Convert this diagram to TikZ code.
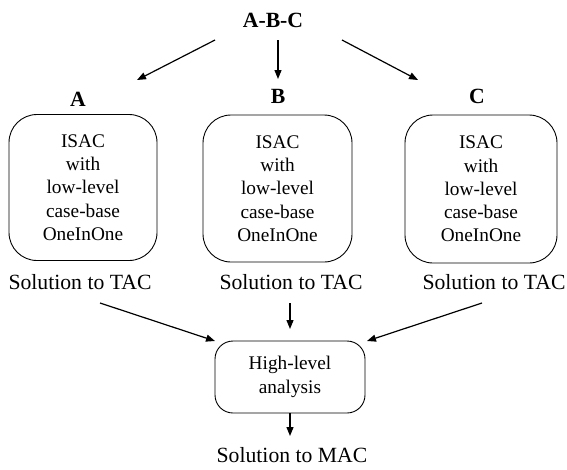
\documentclass[tikz,border=0pt]{standalone}
\usepackage{fontspec}
\setmainfont{Liberation Serif}
\usetikzlibrary{arrows.meta}
\tikzset{
  bigtxt/.style={font=\fontsize{21.7}{26}\selectfont, inner sep=0pt},
  boldtxt/.style={font=\fontsize{21.7}{26}\selectfont\bfseries, inner sep=0pt},
  isacbox/.style={draw, line width=0.9pt, rounded corners=28pt, minimum width=148pt, minimum height=146pt,
     align=center, inner sep=0pt, font=\fontsize{19.3}{23.3}\selectfont},
  hlbox/.style={draw, line width=0.9pt, rounded corners=18pt, minimum width=150pt, minimum height=72pt,
     align=center, inner sep=0pt, font=\fontsize{19.3}{23.3}\selectfont},
  arr/.style={line width=1.2pt, -{Triangle[length=9pt,width=7pt]}}
}
\begin{document}
\begin{tikzpicture}[x=1pt,y=-1pt]
\useasboundingbox (0,0) rectangle (567,469);
% top label
\node[boldtxt] (abc) at (273,20) {A-B-C};
\node[boldtxt] (la) at (78,99) {A};
\node[boldtxt] (lb) at (278,96) {B};
\node[boldtxt] (lc) at (477,96) {C};
% boxes
\node[isacbox] (ba) at (83,187.5) {ISAC\\with\\low-level\\case-base\\OneInOne};
\node[isacbox, minimum width=149pt, minimum height=147pt] (bb) at (277.5,188.5) {ISAC\\with\\low-level\\case-base\\OneInOne};
\node[isacbox, minimum width=152pt, minimum height=148pt] (bc) at (481,189) {ISAC\\with\\low-level\\case-base\\OneInOne};
% solutions
\node[bigtxt] (sa) at (80,282) {Solution to TAC};
\node[bigtxt] (sb) at (291,282) {Solution to TAC};
\node[bigtxt] (sc) at (494,282) {Solution to TAC};
% high-level box
\node[hlbox] (hl) at (290,377) {High-level\\analysis};
\node[bigtxt] (smac) at (292,455) {Solution to MAC};
% arrow end coordinates
\coordinate (t1s) at (215,40);
\coordinate (t1e) at (137,80);
\coordinate (t2s) at (278,40);
\coordinate (t2e) at (278,79);
\coordinate (t3s) at (342,40);
\coordinate (t3e) at (418,80);
\coordinate (b1s) at (100,303);
\coordinate (b1e) at (215,341);
\coordinate (b2s) at (290,303);
\coordinate (b2e) at (290,329);
\coordinate (b3s) at (482,303);
\coordinate (b3e) at (367,341);
\coordinate (b4e) at (290,436);
% arrows
\draw[arr] (t1s) -- (t1e);
\draw[arr] (t2s) -- (t2e);
\draw[arr] (t3s) -- (t3e);
\draw[arr] (b1s) -- (b1e);
\draw[arr] (b2s) -- (b2e);
\draw[arr] (b3s) -- (b3e);
\draw[arr] (hl.south) -- (b4e);
\end{tikzpicture}
\end{document}
